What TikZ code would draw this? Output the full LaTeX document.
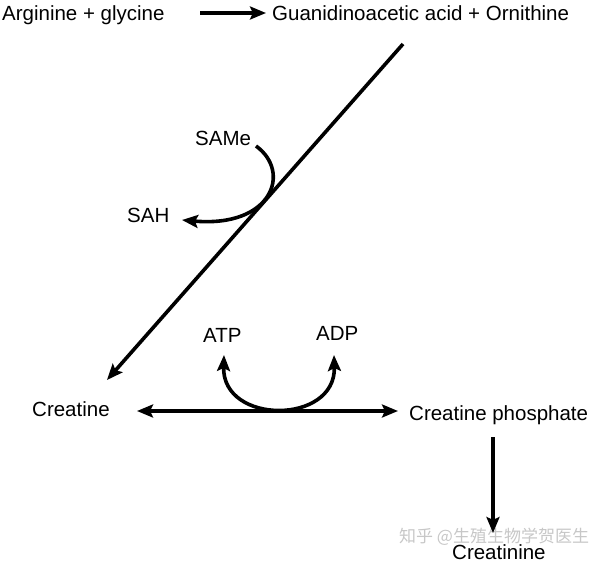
\documentclass[tikz,border=0pt]{standalone}
\usepackage{fontspec}
\setmainfont{Liberation Sans}
\newfontfamily\cjk{Noto Sans CJK SC}
\usetikzlibrary{arrows.meta}
\begin{document}
\begin{tikzpicture}[x=1pt,y=-1pt,
  lbl/.style={inner sep=0pt, font=\fontsize{20.5}{24}\selectfont},
  tipend/.style={-{Stealth[length=16pt,width=13pt,inset=3pt]}},
  tipboth/.style={{Stealth[length=16pt,width=13pt,inset=3pt]}-{Stealth[length=16pt,width=13pt,inset=3pt]}},
  conn/.style={line width=3.6pt}]
\useasboundingbox (0,0) rectangle (600,563);
% labels
\node[lbl, anchor=base west] (ag) at (2,20) {Arginine + glycine};
\node[lbl, anchor=base west] (gaa) at (272,20) {Guanidinoacetic acid + Ornithine};
\node[lbl, anchor=base west] (same) at (195,145) {SAMe};
\node[lbl, anchor=base west] (sah) at (127,222) {SAH};
\node[lbl, anchor=base west] (atp) at (203,342) {ATP};
\node[lbl, anchor=base west] (adp) at (316,340) {ADP};
\node[lbl, anchor=base west] (cr) at (32,416) {Creatine};
\node[lbl, anchor=base west] (crp) at (409,420) {Creatine phosphate};
\node[lbl, anchor=base west] (crn) at (452,559) {Creatinine};
\node[inner sep=0pt, anchor=base west, text=black!22, font=\cjk\fontsize{17}{20}\selectfont] (wm) at (399,542) {知乎 @生殖生物学贺医生};
% connector end points
\coordinate (a1) at (200,13);
\coordinate (a2) at (266,13);
\coordinate (d1) at (403,44);
\coordinate (d2) at (107,380);
\coordinate (s1) at (256,146);
\coordinate (s2) at (182,220);
\coordinate (u1) at (224,355);
\coordinate (u2) at (334,355);
\coordinate (h1) at (137,411);
\coordinate (h2) at (398,411);
\coordinate (v1) at (493,437);
\coordinate (v2) at (493,533);
% connectors
\draw[line width=4.5pt, tipend] (a1) -- (a2);
\draw[conn, tipend] (d1) -- (d2);
\draw[conn, tipend] (s1) .. controls (292,172) and (272,228) .. (s2);
\draw[conn, tipboth] (u1) .. controls (222,425) and (336,425) .. (u2);
\draw[conn, tipboth] (h1) -- (h2);
\draw[conn, tipend] (v1) -- (v2);
\end{tikzpicture}
\end{document}
